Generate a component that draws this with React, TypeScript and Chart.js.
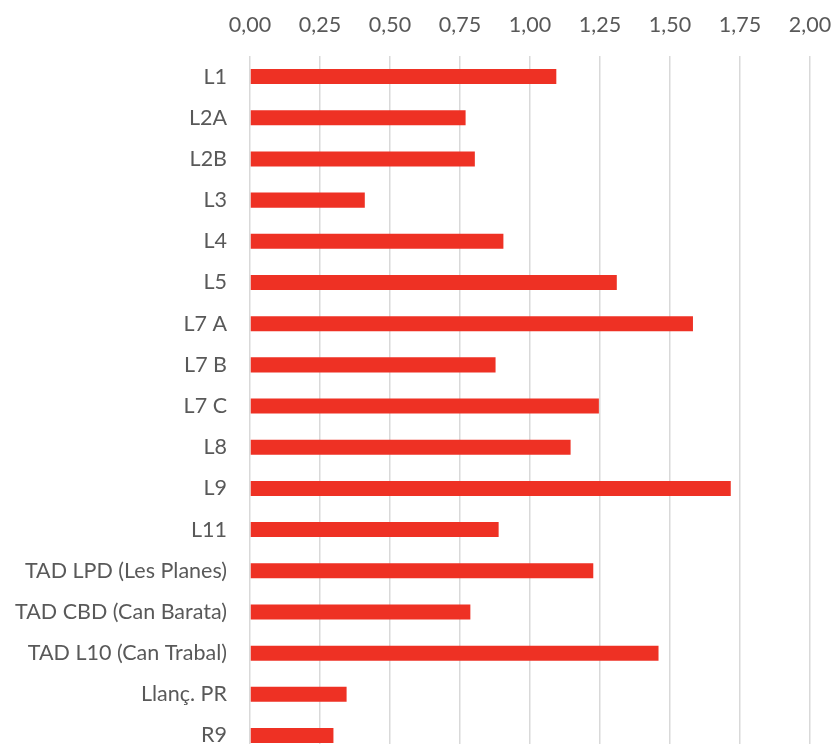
import React, { useEffect, useRef } from "react";
import { Chart, registerables } from "chart.js";

Chart.register(...registerables);

const categories = [
  "L1", "L2A", "L2B", "L3", "L4", "L5", "L7 A", "L7 B", "L7 C", "L8", "L9", "L11",
  "TAD LPD (Les Planes)", "TAD CBD (Can Barata)", "TAD L10 (Can Trabal)", "Llanç. PR", "R9",
];
const values = [
  1.094, 0.770, 0.803, 0.410, 0.905, 1.310, 1.582, 0.877, 1.246, 1.145, 1.717, 0.888,
  1.226, 0.787, 1.459, 0.345, 0.298,
];
const axisMin = 0;
const axisMax = 2;
const axisStep = 0.25;

export default function App() {
  const ref = useRef<HTMLCanvasElement | null>(null);
  useEffect(() => {
    if (!ref.current) return;
    const font = { family: "Lato", size: 21.5 };
    const chart = new Chart(ref.current, {
      type: "bar",
      data: {
        labels: categories,
        datasets: [
          {
            data: values,
            backgroundColor: "#EE3124",
            borderWidth: 0,
            categoryPercentage: 1,
            barPercentage: 0.365,
          },
        ],
      },
      options: {
        indexAxis: "y",
        animation: false,
        responsive: false,
        maintainAspectRatio: false,
        layout: { padding: { top: 0, left: 0, right: 26, bottom: 15 } },
        plugins: { legend: { display: false }, tooltip: { enabled: false } },
        scales: {
          x: {
            position: "top",
            min: axisMin,
            max: axisMax,
            border: { display: false },
            grid: { color: "#d9d9d9", lineWidth: 1.5, drawTicks: false },
            ticks: {
              stepSize: axisStep,
              color: "#595959",
              font,
              padding: 18,
              maxRotation: 0,
              callback: (v: any) => Number(v).toFixed(2).replace(".", ","),
            },
            afterFit: (s: any) => {
              s.height = 56;
              s.paddingLeft = 0;
              s.paddingRight = 0;
            },
          },
          y: {
            border: { display: false },
            grid: { display: false, drawTicks: false },
            ticks: { color: "#595959", font, padding: 23, autoSkip: false },
            afterFit: (s: any) => {
              s.width = 250;
            },
          },
        },
      },
    });
    return () => chart.destroy();
  }, []);
  return (
    <div style={{ position: "fixed", left: 0, top: 0, width: 836, height: 744, overflow: "hidden", background: "#fff" }}>
      <canvas ref={ref} width={836} height={792} style={{ display: "block", width: 836, height: 792 }} />
    </div>
  );
}
